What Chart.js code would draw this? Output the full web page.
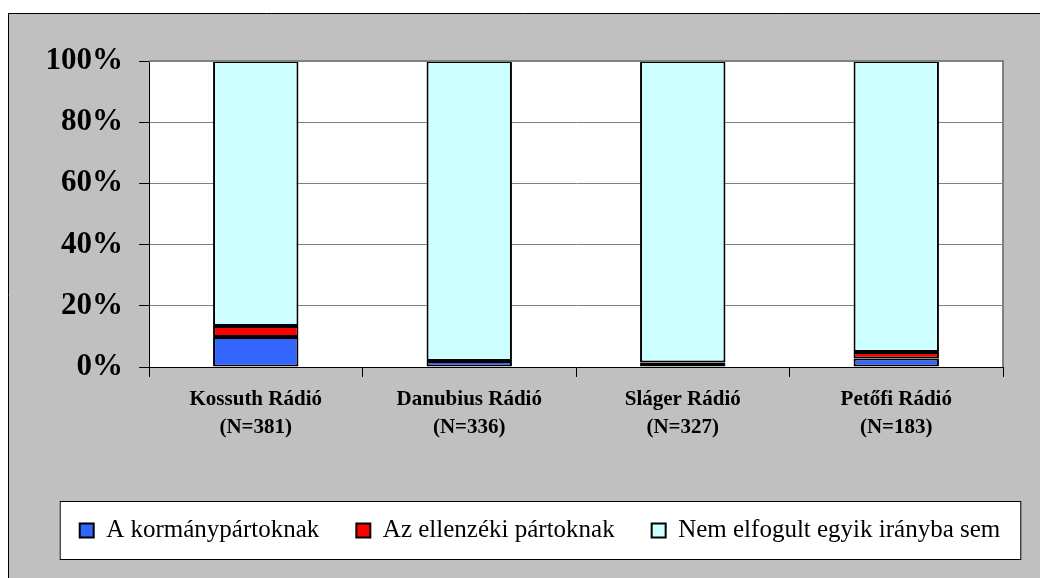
<!DOCTYPE html>
<html>
<head>
<meta charset="utf-8">
<script src="https://cdn.jsdelivr.net/npm/chart.js@4"></script>
<style>
  html, body { margin: 0; padding: 0; background: #fff; overflow: hidden; }
  #wrap { position: absolute; left: 0; top: 0; width: 1040px; height: 578px; }
</style>
</head>
<body>
<div id="wrap"><canvas id="radioChart"></canvas></div>
<script>
// data
const stations = ["Kossuth Rádió", "Danubius Rádió", "Sláger Rádió", "Petőfi Rádió"];
const sampleSizes = [381, 336, 327, 183];

const seriesNames = ["A kormánypártoknak", "Az ellenzéki pártoknak", "Nem elfogult egyik irányba sem"];
const govData = [9.8, 2.0, 1.5, 2.8];
const oppData = [3.6, 0, 0, 2.1];
const neutralData = [86.6, 98.0, 98.5, 95.1];

const seriesColors = ["#3366ff", "#ff0000", "#ccffff"];
const yTicks = [0, 20, 40, 60, 80, 100];

const serif = "'Liberation Serif', 'Times New Roman', serif";
Chart.defaults.font.family = serif;
Chart.defaults.color = "#000";

// background, plot area and legend frame
const framePlugin = {
  id: "frame",
  beforeDraw(chart) {
    const ctx = chart.ctx;
    const a = chart.chartArea;
    ctx.save();
    ctx.fillStyle = "#c0c0c0";
    ctx.fillRect(8, 13, chart.width, chart.height);
    ctx.strokeStyle = "#000";
    ctx.lineWidth = 1;
    ctx.beginPath();
    ctx.moveTo(8.5, chart.height);
    ctx.lineTo(8.5, 13.5);
    ctx.lineTo(chart.width, 13.5);
    ctx.stroke();

    ctx.fillStyle = "#fff";
    ctx.fillRect(a.left, a.top, a.right - a.left, a.bottom - a.top);

    // legend frame
    const boxes = chart.legend.legendHitBoxes;
    if (boxes && boxes.length) {
      const l = Math.min(...boxes.map((b) => b.left)) - 20;
      const r = Math.max(...boxes.map((b) => b.left + b.width)) + 20;
      const mid = boxes[0].top + boxes[0].height / 2;
      const t = Math.round(mid - 30);
      const h = 58;
      ctx.fillStyle = "#fff";
      ctx.fillRect(l, t, r - l, h);
      ctx.strokeStyle = "#000";
      ctx.strokeRect(l + 0.5, t + 0.5, r - l, h);
    }
    ctx.restore();
  },
  afterDatasetsDraw(chart) {
    const ctx = chart.ctx;
    const a = chart.chartArea;
    ctx.save();
    ctx.strokeStyle = "#808080";
    ctx.lineWidth = 2;
    ctx.beginPath();
    ctx.moveTo(a.left, a.top);
    ctx.lineTo(a.right, a.top);
    ctx.lineTo(a.right, a.bottom);
    ctx.stroke();
    ctx.restore();
  },
};

const datasets = [govData, oppData, neutralData].map((d, i) => ({
  label: seriesNames[i],
  data: d,
  backgroundColor: seriesColors[i],
  borderColor: "#000",
  // no outline on empty segments
  borderWidth: (c) => (c.raw === 0 ? 0 : 2),
  borderSkipped: false,
  categoryPercentage: 1,
  barPercentage: 0.4,
}));

new Chart(document.querySelector("#radioChart"), {
  type: "bar",
  data: {
    labels: stations.map((s, i) => [s, `(N=${sampleSizes[i]})`]),
    datasets: datasets,
  },
  options: {
    responsive: true,
    maintainAspectRatio: false,
    animation: false,
    layout: {
      padding: { left: 40, right: 0, top: 61, bottom: 25 },
    },
    scales: {
      x: {
        stacked: true,
        grid: {
          drawOnChartArea: false,
          color: "#000",
          tickLength: 10,
        },
        border: { color: "#000", width: 1 },
        ticks: {
          color: "#000",
          padding: 8,
          font: { family: serif, size: 21, weight: "bold", lineHeight: 1.35 },
        },
        afterFit(scale) {
          scale.height = 114;
        },
      },
      y: {
        stacked: true,
        min: 0,
        max: 100,
        afterBuildTicks(scale) {
          scale.ticks = yTicks.map((v) => ({ value: v }));
        },
        grid: {
          color: "#808080",
          tickColor: "#000",
          tickLength: 10,
        },
        border: { color: "#000", width: 1 },
        ticks: {
          color: "#000",
          padding: 16,
          font: { family: serif, size: 31, weight: "bold" },
          callback: (v) => v + "%",
        },
        afterFit(scale) {
          scale.width = 109;
        },
      },
      // empty right-hand spacer so the legend centres on the grey panel
      spacer: {
        position: "right",
        min: 0,
        max: 100,
        grid: { display: false },
        border: { display: false },
        ticks: { display: false },
        afterFit(scale) {
          scale.width = 37;
        },
      },
    },
    plugins: {
      legend: {
        position: "bottom",
        labels: {
          color: "#000",
          boxWidth: 14,
          boxHeight: 14,
          padding: 37,
          font: { family: serif, size: 25 },
        },
      },
      tooltip: { enabled: false },
    },
  },
  plugins: [framePlugin],
});
</script>
</body>
</html>
